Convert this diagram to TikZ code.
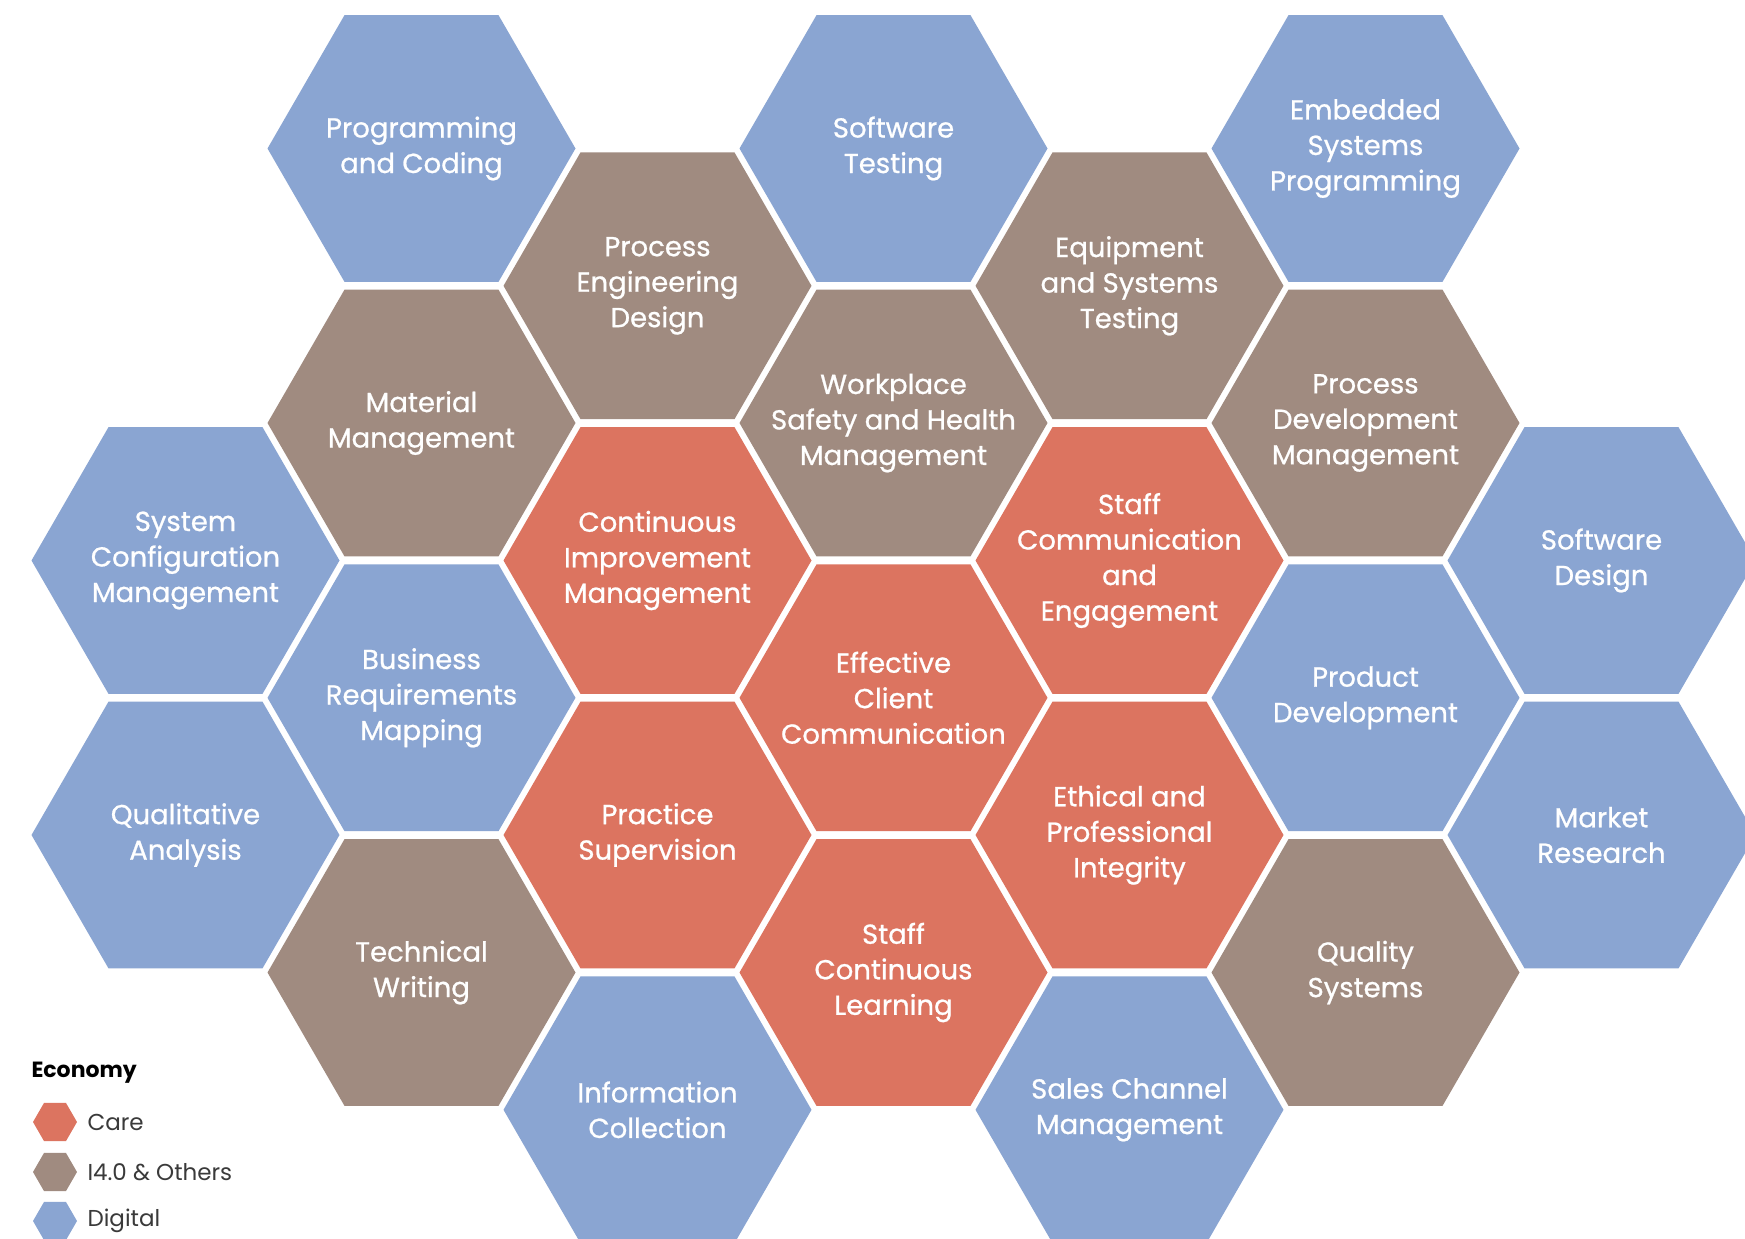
\documentclass[tikz,border=0pt]{standalone}
\usepackage{fontspec}
\setmainfont{Poppins}
\newfontfamily\hexfont{Poppins}[FakeBold=0.8]
\usetikzlibrary{shapes.geometric}
\definecolor{digital}{HTML}{8AA5D2}
\definecolor{industry}{HTML}{A08B80}
\definecolor{care}{HTML}{DC7460}
\definecolor{legendtext}{HTML}{3A3A3A}
\begin{document}
\begin{tikzpicture}[x=1pt,y=-1pt,
  hexcell/.style={regular polygon, regular polygon sides=6, minimum size=308pt, inner sep=0pt, draw=none},
  hextext/.style={text=white, align=center, font=\hexfont\fontsize{27.5}{35.5}\selectfont},
  keyhex/.style={regular polygon, regular polygon sides=6, minimum size=44pt, inner sep=0pt, draw=none},
  keytext/.style={anchor=west, text=legendtext, font=\fontsize{23}{26}\selectfont},
  keytitle/.style={anchor=west, text=black, font=\bfseries\fontsize{22}{26}\selectfont}]
\useasboundingbox (0,0) rectangle (1745,1239);
\fill[white] (0,0) rectangle (1745,1239);
\clip (0,0) rectangle (1745,1239);
\foreach \nm/\cx/\cy/\col/\txt in {
  sysconf/185.5/560.5/digital/{System\\Configuration\\Management},
  qualan/185.5/835/digital/{Qualitative\\Analysis},
  progcod/421.5/148.5/digital/{Programming\\and Coding},
  matman/421.5/423/industry/{Material\\Management},
  busreq/421.5/697.8/digital/{Business\\Requirements\\Mapping},
  techwr/421.5/972.5/industry/{Technical\\Writing},
  proceng/657.5/285.8/industry/{Process\\Engineering\\Design},
  contimp/657.5/560.5/care/{Continuous\\Improvement\\Management},
  practsup/657.5/835/care/{Practice\\Supervision},
  infocol/657.5/1109.8/digital/{Information\\Collection},
  softtest/893.5/148.5/digital/{Software\\Testing},
  workpl/893.5/423/industry/{Workplace\\Safety and Health\\Management},
  effcli/893.5/697.8/care/{Effective\\Client\\Communication},
  staffcl/893.5/972.5/care/{Staff\\Continuous\\Learning},
  equip/1129.5/285.8/industry/{Equipment\\and Systems\\Testing},
  staffce/1129.5/560.5/care/{Staff\\Communication\\and\\Engagement},
  ethic/1129.5/835/care/{Ethical and\\Professional\\Integrity},
  sales/1129.5/1109.8/digital/{Sales Channel\\Management},
  embed/1365.5/148.5/digital/{Embedded\\Systems\\Programming},
  procdev/1365.5/423/industry/{Process\\Development\\Management},
  proddev/1365.5/697.8/digital/{Product\\Development},
  qualsys/1365.5/972.5/industry/{Quality\\Systems},
  softdes/1601.5/560.5/digital/{Software\\Design},
  market/1601.5/835/digital/{Market\\Research}} {
  \node[hexcell, fill=\col] (\nm) at (\cx,\cy) {};
  \node[hextext] (\nm-t) at (\nm.center) {\txt};
}
\node[keytitle] (ktitle) at (28,1073) {Economy};
\node[keyhex, fill=care] (kcare) at (55,1122) {};
\node[keytext] (kcaret) at (84,1122) {Care};
\node[keyhex, fill=industry] (kind) at (55,1172) {};
\node[keytext] (kindt) at (84,1172) {I4.0 \& Others};
\node[keyhex, fill=digital] (kdig) at (55,1221) {};
\node[keytext] (kdigt) at (84,1221) {Digital};
\end{tikzpicture}
\end{document}
